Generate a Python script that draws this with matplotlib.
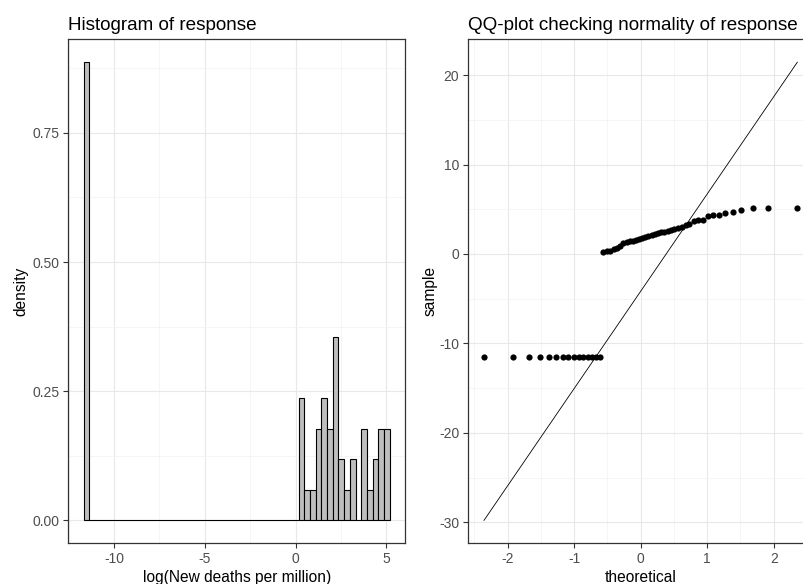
import numpy as np
import matplotlib
matplotlib.use("Agg")
import matplotlib.pyplot as plt
from statistics import NormalDist

# ---------------- data ----------------
# Histogram (density) of log(New deaths per million)
hist_low_edge = -11.67          # single bin holding the floor value
hist_low_count = 15
hist_high_start = 0.17          # start of the right-hand cluster of bins
hist_high_counts = [4, 1, 1, 3, 4, 3, 6, 2, 1, 2, 0, 3, 1, 2, 3, 3]
bin_width = 0.3133

# QQ-plot sample (sorted response values)
sample_low = [-11.51] * 15
sample_high = [0.25, 0.30, 0.35, 0.55, 0.70, 0.90, 1.20, 1.35, 1.45, 1.50,
               1.60, 1.70, 1.80, 1.95, 2.05, 2.15, 2.25, 2.35, 2.45, 2.50,
               2.57, 2.70, 2.80, 2.90, 3.05, 3.20, 3.35, 3.67, 3.75, 3.85,
               4.30, 4.33, 4.40, 4.55, 4.70, 4.88, 5.13, 5.13, 5.13]
sample = np.array(sample_low + sample_high)

left_title = "Histogram of response"
right_title = "QQ-plot checking normality of response"

# ---------------- style ----------------
plt.rcParams['font.family'] = ['Liberation Sans', 'DejaVu Sans']
plt.rcParams['axes.unicode_minus'] = False
TICK_COL = '#4D4D4D'
GRID_MAJ = '#E8E8E8'
GRID_MIN = '#F2F2F2'
BORDER = '#333333'

W, H = 804, 584
fig = plt.figure(figsize=(W / 100, H / 100), dpi=100)

def px_axes(l, r, t, b):
    return fig.add_axes([l / W, 1 - b / H, (r - l) / W, (b - t) / H])

def style(ax, xmaj, xmin, ymaj, ymin):
    ax.set_xticks(xmaj)
    ax.set_xticks(xmin, minor=True)
    ax.set_yticks(ymaj)
    ax.set_yticks(ymin, minor=True)
    ax.grid(which='major', color=GRID_MAJ, linewidth=0.8, zorder=0)
    ax.grid(which='minor', color=GRID_MIN, linewidth=0.5, zorder=0)
    ax.set_axisbelow(True)
    for s in ax.spines.values():
        s.set_color(BORDER)
        s.set_linewidth(0.9)
    ax.tick_params(which='major', length=3.5, width=0.8, color=BORDER,
                   labelsize=10, labelcolor=TICK_COL, pad=3)
    ax.tick_params(which='minor', length=0)

# ---------------- histogram ----------------
ax1 = px_axes(68.3, 405, 39.3, 543.3)
n = hist_low_count + sum(hist_high_counts)
lefts = [hist_low_edge] + [hist_high_start + i * bin_width for i in range(len(hist_high_counts))]
counts = [hist_low_count] + hist_high_counts
dens = [c / (n * bin_width) for c in counts]
ax1.bar(lefts, dens, width=bin_width, align='edge', color='#BEBEBE',
        edgecolor='black', linewidth=0.8, zorder=2)
# baseline across empty space (ggplot draws zero-height bars)
ax1.hlines(0, hist_low_edge + bin_width, hist_high_start, color='black',
           linewidth=0.8, zorder=2)
xlo = hist_low_edge
xhi = hist_high_start + len(hist_high_counts) * bin_width
xr = xhi - xlo
ax1.set_xlim(xlo - 0.05 * xr, xhi + 0.05 * xr)
ymax = max(dens)
ax1.set_ylim(-0.05 * ymax, 1.05 * ymax)
style(ax1, [-10, -5, 0, 5], [-12.5, -7.5, -2.5, 2.5],
      [0, 0.25, 0.5, 0.75], [0.125, 0.375, 0.625, 0.875])
ax1.set_yticklabels(['0.00', '0.25', '0.50', '0.75'])
ax1.set_xlabel('log(New deaths per million)', fontsize=11.2, labelpad=3)
ax1.set_ylabel('density', fontsize=11.2, labelpad=3)
ax1.set_title(left_title, loc='left', fontsize=13.6, pad=7)

# ---------------- QQ plot ----------------
ax2 = px_axes(468.3, 813, 39.3, 543.3)
m = len(sample)
nd = NormalDist()
theo = np.array([nd.inv_cdf((i - 0.5) / m) for i in range(1, m + 1)])
q1s, q3s = np.quantile(sample, [0.25, 0.75])
q1t, q3t = nd.inv_cdf(0.25), nd.inv_cdf(0.75)
slope = (q3s - q1s) / (q3t - q1t)
inter = q1s - slope * q1t
lx = np.array([theo.min(), theo.max()])
ly = inter + slope * lx
ax2.plot(lx, ly, color='black', linewidth=0.6, zorder=2)
ax2.scatter(theo, sample, s=20, color='black', linewidths=0, zorder=3)
tr = theo.max() - theo.min()
ax2.set_xlim(theo.min() - 0.05 * tr, theo.max() + 0.05 * tr)
ylo = min(sample.min(), ly.min())
yhi = max(sample.max(), ly.max())
yr = yhi - ylo
ax2.set_ylim(ylo - 0.05 * yr, yhi + 0.05 * yr)
style(ax2, [-2, -1, 0, 1, 2], [-2.5, -1.5, -0.5, 0.5, 1.5, 2.5],
      [-30, -20, -10, 0, 10, 20], [-25, -15, -5, 5, 15])
ax2.set_xlabel('theoretical', fontsize=11.2, labelpad=3)
ax2.set_ylabel('sample', fontsize=11.2, labelpad=1)
ax2.set_title(right_title, loc='left', fontsize=13.6, pad=7)

fig.savefig('out.png', dpi=100)
